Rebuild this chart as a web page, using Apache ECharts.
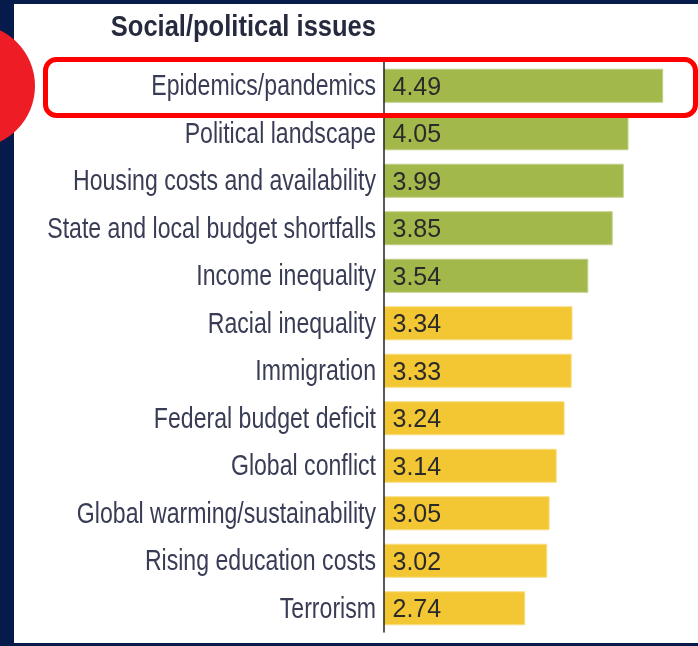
<!DOCTYPE html>
<html>
  <head>
    <meta charset="UTF-8" />
    <title>Social/political issues</title>
    <script src="https://cdn.jsdelivr.net/npm/echarts@6/dist/echarts.min.js"></script>
    <style>
      html, body { margin: 0; padding: 0; background: #061a4c; }
    </style>
  </head>
  <body>
    <div id="issuesChart" style="width: 698px; height: 646px"></div>
  </body>
  <script>
    const categories = [
      'Epidemics/pandemics',
      'Political landscape',
      'Housing costs and availability',
      'State and local budget shortfalls',
      'Income inequality',
      'Racial inequality',
      'Immigration',
      'Federal budget deficit',
      'Global conflict',
      'Global warming/sustainability',
      'Rising education costs',
      'Terrorism'
    ];
    const scores = [4.49, 4.05, 3.99, 3.85, 3.54, 3.34, 3.33, 3.24, 3.14, 3.05, 3.02, 2.74];
    // 'top' rows are drawn green, the rest yellow
    const tiers = ['top', 'top', 'top', 'top', 'top', 'rest', 'rest', 'rest', 'rest', 'rest', 'rest', 'rest'];

    const tierColors = { top: '#a3b84b', rest: '#f3c733' };
    const tierBorders = { top: '#bfcf86', rest: '#f8dc80' };
    const xMin = 0.95;

    let myChart = echarts.init(document.getElementById('issuesChart'));

    myChart.setOption({
      backgroundColor: '#061a4c',
      animation: false,
      grid: { left: 384, right: 8, top: 62, bottom: 14 },
      xAxis: {
        type: 'value',
        min: xMin,
        max: 4.83,
        show: false
      },
      yAxis: {
        type: 'category',
        data: categories,
        inverse: true,
        axisTick: { show: false },
        axisLabel: { show: false },
        axisLine: { show: true, lineStyle: { color: '#222', width: 1.5 } },
        z: 5
      },
      graphic: [
        // white panel inside the navy frame
        { type: 'rect', z: -10, silent: true, shape: { x: 14, y: 4, width: 684, height: 639 }, style: { fill: '#ffffff' } },
        // narrow bold heading, squeezed to look condensed
        {
          type: 'text', z: 10, silent: true, x: 376, y: 28, scaleX: 0.88,
          style: { text: 'Social/political issues', align: 'right', verticalAlign: 'middle', font: 'bold 29px "Liberation Sans"', fill: '#262a3e' }
        },
        // red marker circle at left edge
        { type: 'circle', z: 100, silent: true, shape: { cx: -27, cy: 86, r: 62 }, style: { fill: '#ee1c25' } },
        // highlight box round first row
        { type: 'rect', z: 100, silent: true, shape: { x: 45.5, y: 59.5, width: 650, height: 56, r: 11 }, style: { fill: 'none', stroke: '#ff0000', lineWidth: 5 } }
      ],
      series: [
        {
          type: 'bar',
          barWidth: 34,
          data: scores.map((v, i) => ({
            value: v,
            itemStyle: { color: tierColors[tiers[i]], borderColor: tierBorders[tiers[i]], borderWidth: 1 }
          })),
          label: {
            show: true,
            position: 'insideLeft',
            distance: 9,
            offset: [0, 2],
            fontFamily: 'Liberation Sans',
            fontSize: 25,
            color: '#2a2a2a',
            formatter: p => p.value.toFixed(2)
          }
        },
        {
          // category names, drawn condensed beside the axis
          type: 'custom',
          silent: true,
          data: categories.map((name, i) => [xMin, i]),
          renderItem: (params, api) => {
            const pt = api.coord([xMin, api.value(1)]);
            return {
              type: 'text',
              x: pt[0] - 8,
              y: pt[1] + 1,
              scaleX: 0.77,
              style: {
                text: categories[params.dataIndex],
                align: 'right',
                verticalAlign: 'middle',
                font: '30px "Liberation Sans"',
                fill: '#393c55'
              }
            };
          }
        }
      ]
    });
  </script>
</html>
